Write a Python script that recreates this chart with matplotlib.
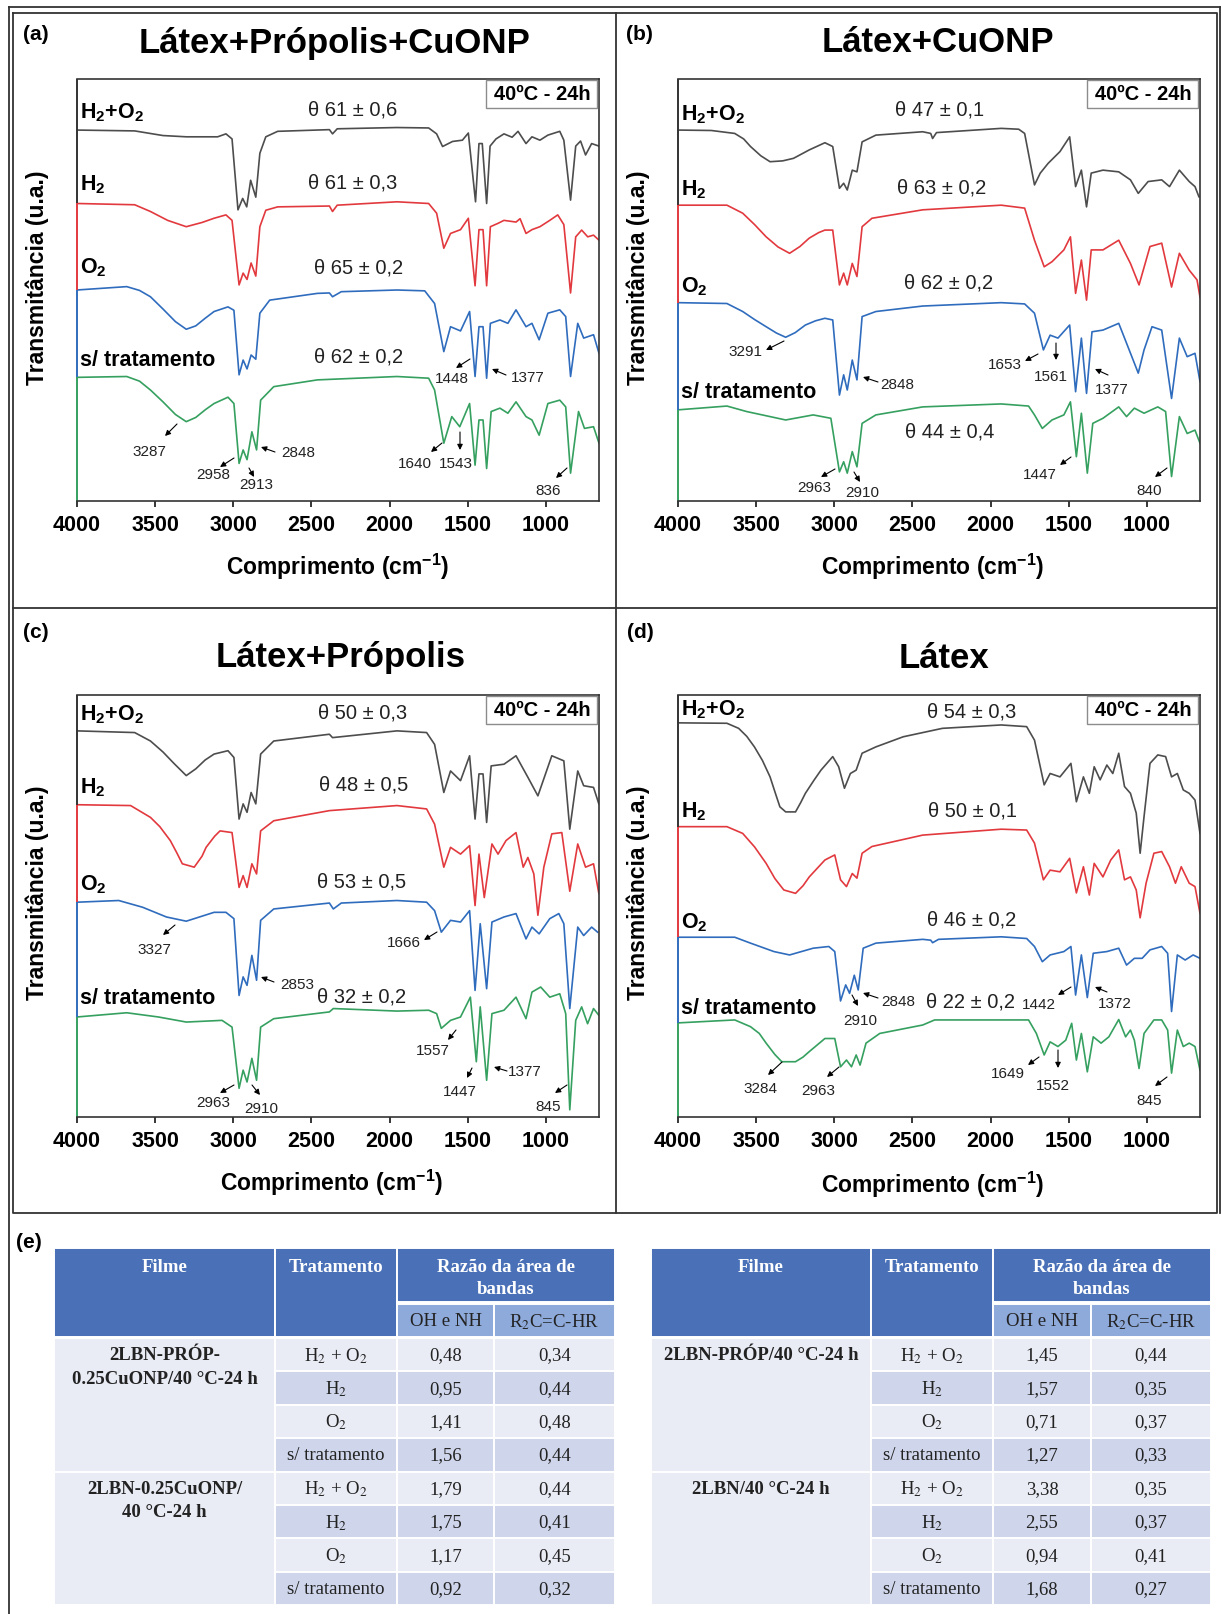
import matplotlib
matplotlib.use("Agg")
import matplotlib.pyplot as plt
from matplotlib.patches import Rectangle

W, H = 1221, 1614
plt.rcParams['font.family'] = ['Liberation Sans', 'DejaVu Sans']
plt.rcParams['mathtext.fontset'] = 'custom'
plt.rcParams['mathtext.rm'] = 'Liberation Sans'
plt.rcParams['mathtext.bf'] = 'Liberation Sans:bold'
plt.rcParams['mathtext.it'] = 'Liberation Sans:italic'

GRAY, RED, BLUE, GREEN = '#4d4d4d', '#e2393e', '#2f6cbd', '#35a05f'
COLORS = [GRAY, RED, BLUE, GREEN]

# ---------------- spectra: (wavenumber cm-1, transmittance offset in % of panel height)
A_H2O2 = [(4000, 87.9), (3631, 87.7), (3450, 86.6), (3300, 86.3), (3100, 86.3), (3047, 87.0), (3008, 85.8),
          (2970, 69.0), (2940, 71.7), (2914, 69.7), (2889, 76.0), (2856, 72.0), (2830, 82.4), (2792, 86.3),
          (2716, 87.6), (2385, 88.0), (2365, 87.0), (2335, 88.2), (1953, 88.5), (1750, 88.4), (1699, 87.0),
          (1661, 84.0), (1597, 85.2), (1534, 85.5), (1496, 87.2), (1450, 70.9), (1428, 84.7), (1407, 84.7),
          (1379, 70.5), (1357, 84.1), (1319, 85.8), (1268, 87.0), (1216, 86.2), (1178, 87.6), (1127, 84.7),
          (1089, 86.3), (1038, 85.5), (987, 86.7), (911, 87.6), (885, 85.5), (842, 71.3), (809, 84.1),
          (778, 85.3), (746, 82.0), (707, 84.7), (660, 84.1)]
A_H2 = [(4000, 70.5), (3631, 70.2), (3530, 68.6), (3420, 66.5), (3301, 65.0), (3200, 66.0), (3123, 67.0),
        (3047, 67.8), (3008, 66.5), (2963, 51.2), (2937, 54.0), (2912, 52.5), (2886, 56.4), (2856, 53.3),
        (2830, 65.0), (2792, 68.9), (2716, 69.7), (2385, 69.9), (2365, 68.6), (2335, 70.1), (1953, 70.9),
        (1750, 70.5), (1699, 68.2), (1653, 59.9), (1610, 63.4), (1546, 64.3), (1496, 67.0), (1453, 51.0),
        (1428, 64.3), (1402, 64.3), (1379, 51.0), (1355, 65.0), (1306, 65.8), (1268, 66.5), (1191, 66.1),
        (1165, 66.9), (1127, 63.4), (1089, 64.3), (1038, 65.0), (975, 66.5), (924, 67.8), (885, 65.5),
        (842, 49.3), (809, 62.6), (771, 64.2), (732, 62.6), (695, 63.0), (660, 61.8)]
A_O2 = [(4000, 50.0), (3682, 50.8), (3600, 49.9), (3530, 48.4), (3450, 45.5), (3370, 42.5), (3301, 40.7),
        (3240, 41.5), (3180, 43.3), (3123, 44.9), (3034, 46.0), (2996, 45.2), (2963, 29.9), (2937, 33.4),
        (2912, 31.3), (2886, 34.6), (2856, 33.6), (2830, 44.5), (2767, 47.6), (2462, 49.2), (2385, 49.3),
        (2365, 48.4), (2309, 49.6), (1953, 50.0), (1775, 49.8), (1712, 46.8), (1653, 35.4), (1610, 41.3),
        (1546, 40.3), (1488, 44.9), (1453, 29.5), (1428, 41.3), (1402, 41.3), (1379, 29.1), (1355, 42.1),
        (1294, 42.9), (1243, 42.1), (1191, 45.3), (1127, 41.3), (1089, 42.1), (1043, 38.2), (987, 44.5),
        (911, 45.3), (873, 43.7), (842, 29.5), (796, 42.1), (758, 38.6), (695, 39.4), (660, 35.0)]
A_ST = [(4000, 29.3), (3682, 29.5), (3600, 28.4), (3530, 26.3), (3450, 23.5), (3370, 20.5), (3301, 18.8),
        (3240, 19.8), (3180, 21.6), (3123, 23.1), (3034, 24.6), (2996, 23.1), (2963, 8.9), (2937, 12.1),
        (2912, 9.8), (2881, 16.4), (2851, 12.1), (2825, 23.9), (2741, 27.1), (2462, 28.7), (1953, 29.5),
        (1750, 29.1), (1712, 26.3), (1653, 13.7), (1602, 20.0), (1551, 17.6), (1488, 23.1), (1453, 8.5),
        (1428, 19.2), (1402, 19.2), (1379, 7.7), (1350, 21.2), (1294, 22.0), (1243, 20.8), (1191, 23.5),
        (1127, 20.0), (1089, 19.2), (1043, 15.6), (987, 23.1), (911, 23.9), (873, 22.3), (842, 6.6),
        (791, 21.2), (753, 17.2), (695, 17.6), (660, 13.7)]

B_H2O2 = [(4000, 87.9), (3787, 87.8), (3637, 87.1), (3580, 85.8), (3536, 84.0), (3470, 81.8), (3411, 80.4),
          (3330, 80.6), (3261, 81.2), (3160, 83.2), (3060, 84.9), (3010, 84.0), (2967, 74.1), (2940, 75.3),
          (2917, 73.7), (2885, 78.4), (2855, 78.0), (2822, 85.1), (2734, 86.7), (2434, 87.5), (2383, 87.1),
          (2371, 85.9), (2346, 87.3), (1932, 88.3), (1820, 88.1), (1782, 87.1), (1719, 74.9), (1682, 77.7),
          (1632, 80.0), (1556, 82.8), (1494, 86.3), (1456, 74.5), (1419, 78.4), (1386, 69.7), (1356, 77.7),
          (1281, 78.4), (1180, 78.0), (1105, 76.1), (1055, 72.9), (992, 75.7), (905, 76.1), (855, 74.5),
          (792, 78.4), (729, 75.7), (692, 74.5), (667, 72.1)]
B_H2 = [(4000, 70.1), (3687, 70.1), (3586, 68.2), (3510, 65.5), (3436, 62.6), (3360, 60.2), (3286, 58.7),
        (3220, 60.3), (3160, 62.3), (3100, 63.6), (3060, 64.2), (3010, 64.2), (2967, 51.2), (2940, 54.0),
        (2917, 51.2), (2885, 56.3), (2855, 53.2), (2822, 65.0), (2759, 67.0), (2434, 69.0), (1932, 70.1),
        (1782, 69.4), (1719, 61.8), (1657, 55.5), (1607, 56.7), (1531, 59.5), (1489, 62.6), (1456, 49.2),
        (1419, 57.1), (1386, 47.6), (1356, 59.5), (1281, 59.5), (1180, 61.8), (1105, 56.3), (1050, 51.2),
        (980, 60.3), (905, 61.1), (842, 50.7), (792, 58.7), (729, 54.7), (679, 52.4), (660, 48.3)]
B_O2 = [(4000, 47.0), (3687, 46.8), (3586, 44.9), (3510, 43.0), (3436, 41.3), (3370, 39.8), (3311, 38.8),
        (3250, 39.9), (3185, 41.7), (3120, 42.7), (3060, 43.3), (3010, 42.9), (2967, 25.1), (2940, 29.9),
        (2917, 26.3), (2885, 33.4), (2855, 28.7), (2822, 43.7), (2734, 44.9), (2434, 46.2), (1932, 47.0),
        (1782, 46.7), (1719, 44.5), (1662, 35.8), (1619, 39.3), (1569, 38.6), (1494, 41.7), (1456, 25.9),
        (1419, 38.6), (1386, 25.5), (1351, 40.1), (1281, 40.5), (1180, 42.1), (1130, 37.4), (1055, 30.3),
        (1018, 35.8), (967, 41.3), (905, 40.5), (842, 24.3), (792, 38.6), (742, 34.2), (692, 35.0),
        (660, 28.3)]
B_ST = [(4000, 21.6), (3687, 22.5), (3561, 21.2), (3311, 19.2), (3135, 20.4), (3022, 19.6), (2967, 6.9),
        (2940, 9.3), (2917, 6.6), (2885, 11.7), (2855, 8.1), (2822, 18.4), (2734, 20.4), (2434, 22.3),
        (1932, 23.0), (1757, 22.5), (1719, 20.4), (1669, 17.2), (1607, 19.2), (1531, 20.4), (1489, 23.5),
        (1451, 10.5), (1419, 20.8), (1381, 6.6), (1346, 18.4), (1281, 19.6), (1180, 22.3), (1130, 20.0),
        (1080, 22.0), (1018, 20.8), (930, 22.3), (880, 21.2), (842, 5.8), (792, 20.0), (742, 16.0),
        (692, 16.8), (660, 13.7)]

C_H2O2 = [(4000, 91.5), (3631, 91.1), (3530, 89.1), (3450, 86.5), (3380, 83.8), (3301, 80.9), (3240, 82.5),
          (3180, 84.6), (3123, 86.0), (3034, 86.8), (2996, 85.2), (2963, 70.6), (2937, 74.2), (2912, 72.2),
          (2886, 76.9), (2856, 74.2), (2825, 86.0), (2741, 89.1), (2385, 90.7), (2365, 89.9), (1953, 91.5),
          (1763, 91.1), (1712, 88.3), (1653, 76.9), (1610, 82.0), (1546, 79.7), (1488, 85.6), (1453, 70.6),
          (1428, 81.3), (1402, 81.3), (1379, 69.8), (1350, 83.2), (1268, 83.6), (1191, 85.6), (1115, 80.5),
          (1051, 76.1), (962, 85.6), (885, 84.4), (847, 68.2), (796, 82.0), (758, 78.5), (695, 78.1),
          (661, 74.2)]
C_H2 = [(4000, 74.0), (3657, 73.8), (3530, 71.0), (3470, 68.8), (3403, 65.5), (3360, 62.5), (3326, 60.0),
        (3250, 59.2), (3200, 61.8), (3174, 63.9), (3120, 66.5), (3085, 67.8), (3008, 67.4), (2963, 54.4),
        (2937, 57.2), (2912, 54.4), (2881, 60.0), (2851, 57.6), (2825, 67.8), (2741, 70.2), (2385, 72.6),
        (1953, 73.8), (1763, 73.0), (1712, 69.4), (1653, 59.2), (1610, 63.9), (1546, 62.3), (1488, 64.3),
        (1453, 50.1), (1428, 62.3), (1394, 52.0), (1345, 64.7), (1306, 62.3), (1255, 65.5), (1191, 67.4),
        (1145, 59.2), (1115, 61.5), (1077, 57.6), (1051, 47.8), (1013, 59.2), (962, 67.1), (898, 67.4),
        (847, 53.5), (796, 64.7), (746, 59.2), (695, 60.0), (661, 53.0)]
C_O2 = [(4000, 50.9), (3733, 51.3), (3580, 49.7), (3428, 47.4), (3301, 46.4), (3123, 48.5), (3047, 48.5),
        (2996, 47.0), (2963, 28.8), (2937, 33.2), (2912, 31.2), (2881, 38.3), (2851, 32.4), (2825, 46.6),
        (2741, 49.3), (2385, 50.7), (2360, 49.3), (2309, 50.7), (1953, 51.3), (1763, 50.9), (1712, 48.9),
        (1669, 43.8), (1610, 46.6), (1546, 46.2), (1488, 48.9), (1453, 30.0), (1420, 45.8), (1379, 30.4),
        (1345, 46.2), (1268, 47.4), (1191, 48.2), (1127, 42.2), (1089, 45.0), (1043, 43.4), (975, 47.0),
        (917, 48.2), (885, 45.8), (847, 25.7), (796, 45.0), (758, 43.0), (707, 45.0), (669, 43.8)]
C_ST = [(4000, 23.7), (3682, 24.7), (3479, 23.7), (3301, 22.5), (3072, 22.9), (3008, 21.3), (2963, 6.8),
        (2937, 11.1), (2912, 8.3), (2881, 13.9), (2851, 8.7), (2825, 21.3), (2741, 23.3), (2385, 24.9),
        (2360, 25.7), (1953, 25.1), (1750, 25.3), (1699, 24.5), (1669, 21.0), (1610, 22.9), (1546, 23.7),
        (1483, 28.4), (1445, 13.1), (1420, 26.1), (1379, 8.7), (1345, 24.5), (1268, 25.3), (1191, 28.4),
        (1127, 23.3), (1089, 29.6), (1033, 30.8), (975, 28.4), (911, 29.2), (873, 24.5), (847, 1.7),
        (809, 22.9), (771, 26.1), (733, 22.1), (695, 25.7), (661, 24.1)]

D_H2O2 = [(4000, 93.4), (3687, 93.3), (3612, 92.1), (3560, 90.2), (3511, 87.7), (3460, 84.5), (3411, 80.6),
          (3375, 76.5), (3348, 73.5), (3311, 72.3), (3248, 72.3), (3215, 74.5), (3185, 76.7), (3130, 79.8),
          (3085, 82.2), (3010, 85.4), (2972, 83.0), (2935, 77.9), (2897, 81.4), (2860, 82.2), (2822, 86.2),
          (2734, 87.7), (2559, 90.1), (2308, 92.1), (1932, 92.9), (1769, 92.5), (1719, 89.3), (1657, 78.7),
          (1619, 81.4), (1556, 80.6), (1486, 83.8), (1451, 74.7), (1406, 80.6), (1368, 76.7), (1337, 83.0),
          (1299, 79.9), (1256, 83.4), (1218, 81.4), (1180, 86.2), (1143, 78.3), (1105, 76.7), (1068, 72.0),
          (1043, 62.5), (1018, 71.2), (980, 83.8), (930, 85.8), (880, 85.4), (842, 80.6), (805, 81.4),
          (767, 77.5), (729, 76.7), (692, 75.1), (660, 67.2)]
D_H2 = [(4000, 68.8), (3687, 68.8), (3586, 67.2), (3510, 64.0), (3436, 60.1), (3380, 56.5), (3323, 53.8),
        (3248, 53.0), (3200, 54.8), (3160, 56.9), (3100, 59.3), (3060, 60.9), (2997, 62.1), (2960, 56.2),
        (2922, 54.6), (2885, 57.7), (2855, 56.6), (2822, 62.5), (2759, 64.1), (2434, 66.8), (1932, 68.2),
        (1769, 68.0), (1719, 64.9), (1662, 56.2), (1619, 58.5), (1556, 58.1), (1494, 61.3), (1451, 53.1),
        (1406, 59.3), (1368, 52.6), (1337, 60.1), (1281, 56.9), (1231, 60.9), (1180, 63.3), (1143, 56.2),
        (1105, 56.9), (1068, 53.8), (1043, 47.2), (1005, 55.4), (955, 62.5), (905, 62.9), (855, 59.3),
        (817, 55.4), (780, 59.3), (729, 55.4), (692, 54.6), (660, 48.3)]
D_O2 = [(4000, 42.6), (3637, 42.6), (3536, 41.2), (3386, 39.2), (3286, 38.4), (3135, 40.0), (3035, 40.4),
        (2997, 39.2), (2960, 27.5), (2927, 31.3), (2902, 29.3), (2872, 33.6), (2847, 30.1), (2815, 40.0),
        (2734, 41.2), (2434, 42.1), (2383, 41.9), (2371, 41.3), (2333, 42.1), (1932, 42.7), (1769, 42.3),
        (1719, 40.4), (1669, 36.8), (1619, 38.4), (1531, 39.2), (1486, 40.4), (1456, 28.9), (1419, 38.4),
        (1381, 28.3), (1343, 38.8), (1256, 39.2), (1180, 40.0), (1130, 36.0), (1080, 37.6), (1030, 37.6),
        (980, 39.6), (905, 40.4), (867, 38.8), (842, 25.0), (805, 38.4), (755, 37.2), (704, 38.4),
        (660, 37.6)]
D_ST = [(4000, 22.3), (3637, 23.0), (3536, 21.4), (3480, 19.8), (3436, 17.5), (3380, 14.8), (3336, 13.1),
        (3248, 13.1), (3200, 14.2), (3160, 15.5), (3060, 18.6), (2997, 18.6), (2960, 11.9), (2922, 13.5),
        (2890, 11.9), (2860, 14.7), (2835, 12.3), (2797, 17.5), (2709, 19.8), (2434, 21.8), (2358, 23.0),
        (1932, 23.0), (1757, 23.0), (1707, 19.8), (1657, 14.7), (1619, 17.8), (1569, 16.7), (1519, 18.2),
        (1481, 22.2), (1451, 13.5), (1419, 19.8), (1381, 10.7), (1343, 19.0), (1293, 17.5), (1243, 19.0),
        (1180, 23.1), (1136, 19.0), (1105, 20.6), (1080, 18.2), (1050, 11.5), (1018, 19.8), (955, 23.0),
        (905, 23.0), (867, 20.6), (842, 10.4), (805, 20.6), (767, 16.7), (729, 17.5), (692, 16.7),
        (660, 11.1)]

SERIES_LABELS = [r'H$_\mathbf{2}$+O$_\mathbf{2}$', r'H$_\mathbf{2}$', r'O$_\mathbf{2}$', 's/ tratamento']
THETA_A = ['θ 61 ± 0,6', 'θ 61 ± 0,3', 'θ 65 ± 0,2', 'θ 62 ± 0,2']
THETA_B = ['θ 47 ± 0,1', 'θ 63 ± 0,2', 'θ 62 ± 0,2', 'θ 44 ± 0,4']
THETA_C = ['θ 50 ± 0,3', 'θ 48 ± 0,5', 'θ 53 ± 0,5', 'θ 32 ± 0,2']
THETA_D = ['θ 54 ± 0,3', 'θ 50 ± 0,1', 'θ 46 ± 0,2', 'θ 22 ± 0,2']

# band labels: (text, text xy, arrow tail, arrow head) in figure pixels
BANDS_A = [('3287', (149, 452), (177, 424), (165, 436)), ('2958', (213, 475), (234, 458), (220, 467)),
           ('2913', (256, 485), (249, 468), (254, 477)), ('2848', (298, 453), (275, 452), (261, 447)),
           ('1640', (415, 464), (442, 443), (431, 452)), ('1543', (456, 464), (460, 432), (460, 450)),
           ('1448', (452, 379), (470, 359), (456, 368)), ('1377', (528, 378), (506, 375), (492, 369)),
           ('836', (548, 491), (567, 468), (556, 478))]
BANDS_B = [('3291', (745, 352), (784, 341), (766, 350)), ('2848', (897, 385), (878, 382), (863, 377)),
           ('1653', (1005, 365), (1038, 354), (1025, 361)), ('1561', (1051, 377), (1056, 343), (1056, 360)),
           ('1377', (1112, 390), (1108, 375), (1095, 369)), ('2963', (814, 488), (835, 469), (821, 477)),
           ('2910', (862, 493), (854, 472), (860, 482)), ('1447', (1040, 475), (1071, 457), (1060, 465)),
           ('840', (1149, 491), (1167, 468), (1155, 477))]
BANDS_C = [('3327', (154, 950), (175, 925), (163, 935)), ('2853', (297, 985), (274, 982), (261, 977)),
           ('1666', (404, 943), (437, 932), (424, 940)), ('1557', (433, 1051), (456, 1030), (448, 1040)),
           ('2963', (213, 1103), (234, 1085), (220, 1093)), ('2910', (261, 1109), (252, 1085), (260, 1095)),
           ('1447', (460, 1092), (472, 1068), (467, 1078)), ('1377', (525, 1072), (507, 1071), (494, 1067)),
           ('845', (548, 1107), (567, 1085), (555, 1093))]
BANDS_D = [('2910', (860, 1021), (852, 995), (858, 1006)), ('2848', (898, 1002), (878, 998), (863, 993)),
           ('1442', (1039, 1005), (1071, 987), (1058, 995)), ('1372', (1115, 1004), (1107, 992), (1095, 987)),
           ('3284', (760, 1089), (782, 1062), (768, 1075)), ('2963', (818, 1091), (839, 1067), (827, 1077)),
           ('1649', (1008, 1074), (1039, 1057), (1028, 1065)), ('1552', (1053, 1086), (1058, 1050), (1058, 1068)),
           ('845', (1149, 1101), (1167, 1077), (1155, 1086))]

PANELS = [
    dict(letter='(a)', title='Látex+Própolis+CuONP', series=[A_H2O2, A_H2, A_O2, A_ST], theta=THETA_A,
         bands=BANDS_A, rect=(77, 79, 599, 501), letter_xy=(36, 35), title_xy=(335, 43),
         label_y=[113, 185, 268, 360], theta_xy=[(353, 110), (353, 183), (359, 268), (359, 357)],
         xlabel_xy=(338, 567), ylabel_xy=(37, 278)),
    dict(letter='(b)', title='Látex+CuONP', series=[B_H2O2, B_H2, B_O2, B_ST], theta=THETA_B,
         bands=BANDS_B, rect=(678, 79, 1200, 501), letter_xy=(639, 35), title_xy=(938, 43),
         label_y=[115, 190, 287, 392], theta_xy=[(940, 110), (942, 188), (949, 283), (950, 432)],
         xlabel_xy=(933, 567), ylabel_xy=(638, 278)),
    dict(letter='(c)', title='Látex+Própolis', series=[C_H2O2, C_H2, C_O2, C_ST], theta=THETA_C,
         bands=BANDS_C, rect=(77, 695, 599, 1117), letter_xy=(36, 633), title_xy=(341, 658),
         label_y=[715, 788, 885, 998], theta_xy=[(363, 713), (364, 785), (362, 882), (362, 997)],
         xlabel_xy=(332, 1183), ylabel_xy=(37, 893)),
    dict(letter='(d)', title='Látex', series=[D_H2O2, D_H2, D_O2, D_ST], theta=THETA_D,
         bands=BANDS_D, rect=(678, 695, 1200, 1117), letter_xy=(640, 633), title_xy=(944, 658),
         label_y=[710, 812, 923, 1008], theta_xy=[(972, 712), (972, 811), (972, 920), (970, 1002)],
         xlabel_xy=(933, 1185), ylabel_xy=(638, 893)),
]

# ---------------- table (e)
TRATAMENTOS = [r'H$_\mathrm{2}$ + O$_\mathrm{2}$', r'H$_\mathrm{2}$', r'O$_\mathrm{2}$', 's/ tratamento'] * 2
FILMES_L = ['2LBN-PRÓP-\n0.25CuONP/40 °C-24 h', '2LBN-0.25CuONP/\n40 °C-24 h']
OH_L = ['0,48', '0,95', '1,41', '1,56', '1,79', '1,75', '1,17', '0,92']
R2C_L = ['0,34', '0,44', '0,48', '0,44', '0,44', '0,41', '0,45', '0,32']
FILMES_R = ['2LBN-PRÓP/40 °C-24 h', '2LBN/40 °C-24 h']
OH_R = ['1,45', '1,57', '0,71', '1,27', '3,38', '2,55', '0,94', '1,68']
R2C_R = ['0,44', '0,35', '0,37', '0,33', '0,35', '0,37', '0,41', '0,27']

HDR, SUB, LIGHT, DARK = '#4a71b7', '#8eaadb', '#e9ebf5', '#cfd5ea'

fig = plt.figure(figsize=(W / 100, H / 100), dpi=100)
ov = fig.add_axes([0, 0, 1, 1], zorder=5)
ov.set_xlim(0, W)
ov.set_ylim(H, 0)
ov.axis('off')


def px_axes(l, t, r, b):
    return fig.add_axes([l / W, 1 - b / H, (r - l) / W, (b - t) / H])


for p in PANELS:
    l, t, r, b = p['rect']
    ax = px_axes(l, t, r, b)
    for s, c in zip(p['series'], COLORS):
        wn = [q[0] for q in s]
        tr = [q[1] for q in s]
        ax.plot(wn, tr, color=c, lw=1.2)
    ax.set_xlim(4000, 660)
    ax.set_ylim(0, 100)
    ax.set_yticks([])
    ax.set_xticks([4000, 3500, 3000, 2500, 2000, 1500, 1000])
    ax.tick_params(axis='x', direction='out', length=4, width=1.1, pad=6, labelsize=15.5)
    for lbl in ax.get_xticklabels():
        lbl.set_fontweight('bold')
    for sp in ax.spines.values():
        sp.set_linewidth(1.2)
        sp.set_color('#333333')
    # left axis line coloured by the curve sitting in each band
    ax.spines['left'].set_visible(False)
    starts = [s[0][1] for s in p['series']]
    bounds = [100] + starts[1:] + [0]
    for i, c in enumerate(COLORS):
        ax.plot([4000, 4000], [bounds[i], bounds[i + 1]], color=c if i else '#333333',
                lw=1.4, clip_on=False, solid_capstyle='butt')

    # texts
    ov.text(*p['letter_xy'], p['letter'], fontsize=15, fontweight='bold', ha='center', va='center')
    ov.text(*p['title_xy'], p['title'], fontsize=25, fontweight='bold', ha='center', va='center')
    for lab, y in zip(SERIES_LABELS, p['label_y']):
        ov.text(l + 3, y, lab, fontsize=15.5, fontweight='bold', ha='left', va='center')
    for th, xy in zip(p['theta'], p['theta_xy']):
        ov.text(*xy, th, fontsize=14.5, ha='center', va='center', color='#222222')
    for txt, txy, tail, head in p['bands']:
        ov.text(*txy, txt, fontsize=11, ha='center', va='center', color='#222222')
        ov.annotate('', xy=head, xytext=tail,
                    arrowprops=dict(arrowstyle='-|>', color='black', lw=0.8,
                                    mutation_scale=8, shrinkA=0, shrinkB=0))
    ov.text(*p['xlabel_xy'], r'Comprimento (cm$^{\mathbf{-1}}$)', fontsize=16.5,
            fontweight='bold', ha='center', va='center')
    ov.text(*p['ylabel_xy'], 'Transmitância (u.a.)', fontsize=16.5, fontweight='bold',
            ha='center', va='center', rotation=90)
    ov.add_patch(Rectangle((r - 113, t + 1), 111, 28, facecolor='white', edgecolor='#8c8c8c', lw=1.0))
    ov.text(r - 57, t + 15, '40ºC - 24h', fontsize=14.5, fontweight='bold', ha='center', va='center')

# frames
frame = dict(color='#333333', lw=1.3)
ov.plot([9, 9], [7, H], **frame)
ov.plot([9, 1220], [7, 7], **frame)
ov.plot([1220, 1220], [7, 1213], **frame)
ov.plot([13, 1217, 1217, 13, 13], [13, 13, 1213, 1213, 13], **frame)
ov.plot([616, 616], [13, 1213], **frame)
ov.plot([13, 1217], [608, 608], **frame)
ov.text(29, 1243, '(e)', fontsize=15, fontweight='bold', ha='center', va='center')

serif = dict(family=['Liberation Serif', 'DejaVu Serif'], math_fontfamily='stix')


def cell(x0, y0, x1, y1, color):
    ov.add_patch(Rectangle((x0, y0), x1 - x0, y1 - y0, facecolor=color, edgecolor='white', lw=1.4))


def draw_table(xe, filmes, oh, r2c):
    x0, x1, x2, x3, x4 = xe
    top, razao_bot, hdr_bot, row0, rh = 1248, 1302, 1337, 1338, 33.4
    cell(x0, top, x1, hdr_bot, HDR)
    cell(x1, top, x2, hdr_bot, HDR)
    cell(x2, top, x4, razao_bot, HDR)
    cell(x2, razao_bot + 2, x3, hdr_bot, SUB)
    cell(x3, razao_bot + 2, x4, hdr_bot, SUB)
    hk = dict(fontsize=13.5, fontweight='bold', color='white', ha='center', va='center', **serif)
    ov.text((x0 + x1) / 2, 1267, 'Filme', **hk)
    ov.text((x1 + x2) / 2, 1267, 'Tratamento', **hk)
    ov.text((x2 + x4) / 2, 1267, 'Razão da área de', **hk)
    ov.text((x2 + x4) / 2, 1290, 'bandas', **hk)
    sk = dict(fontsize=13.5, color='#222222', ha='center', va='center', **serif)
    ov.text((x2 + x3) / 2, 1322, 'OH e NH', **sk)
    ov.text((x3 + x4) / 2, 1322, r'R$_\mathrm{2}$C=C-HR', **sk)
    for g, f in enumerate(filmes):
        gy = row0 + 4 * g * rh
        cell(x0, gy, x1, gy + 4 * rh, LIGHT)
        for k, line in enumerate(f.split('\n')):
            ov.text((x0 + x1) / 2, gy + 18 + 23 * k, line, fontsize=13.5, fontweight='bold',
                    color='#222222', ha='center', va='center', **serif)
    for i in range(8):
        y0 = row0 + i * rh
        col = LIGHT if i % 2 == 0 else DARK
        for xa, xb in [(x1, x2), (x2, x3), (x3, x4)]:
            cell(xa, y0, xb, y0 + rh, col)
        yc = y0 + rh / 2 + 1
        ov.text((x1 + x2) / 2, yc, TRATAMENTOS[i], **sk)
        ov.text((x2 + x3) / 2, yc, oh[i], **sk)
        ov.text((x3 + x4) / 2, yc, r2c[i], **sk)


draw_table((54, 275, 397, 494, 615), FILMES_L, OH_L, R2C_L)
draw_table((651, 871, 993, 1091, 1211), FILMES_R, OH_R, R2C_R)

fig.savefig('out.png', dpi=100)
